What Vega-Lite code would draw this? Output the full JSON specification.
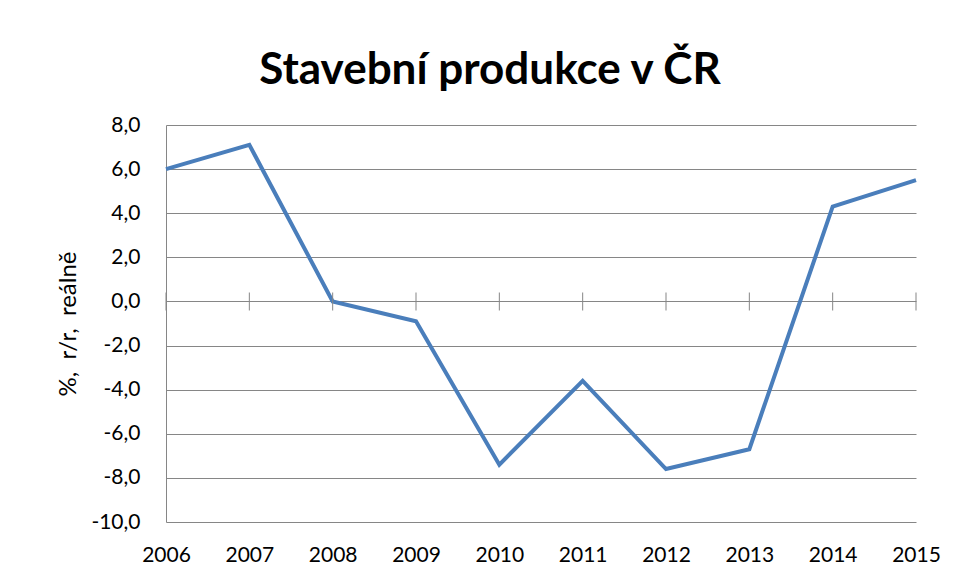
{
  "$schema": "https://vega.github.io/schema/vega-lite/v6.json",
  "width": 750,
  "height": 397,
  "autosize": {"type": "none"},
  "padding": {"left": 166, "top": 125, "right": 44, "bottom": 59},
  "background": "white",
  "config": {
    "locale": {"number": {"decimal": ",", "thousands": " ", "grouping": [3], "currency": ["", " Kč"], "minus": "-"}},
    "view": {"stroke": null},
    "font": "Lato"
  },
  "title": {
    "text": "Stavební produkce v ČR",
    "font": "Lato",
    "fontSize": 44,
    "fontWeight": "bold",
    "color": "#000000",
    "anchor": "middle",
    "baseline": "alphabetic",
    "dx": -51,
    "offset": -14
  },
  "data": {
    "values": [
      {"year": 2006, "value": 6.0},
      {"year": 2007, "value": 7.1},
      {"year": 2008, "value": 0.0},
      {"year": 2009, "value": -0.9},
      {"year": 2010, "value": -7.4},
      {"year": 2011, "value": -3.6},
      {"year": 2012, "value": -7.6},
      {"year": 2013, "value": -6.7},
      {"year": 2014, "value": 4.3},
      {"year": 2015, "value": 5.5}
    ]
  },
  "layer": [
    {
      "mark": {"type": "line", "color": "#4A7EBB", "strokeWidth": 4, "strokeJoin": "miter"},
      "encoding": {
        "x": {
          "field": "year",
          "type": "quantitative",
          "scale": {"domain": [2006, 2015], "nice": false, "zero": false},
          "axis": {
            "values": [2006, 2007, 2008, 2009, 2010, 2011, 2012, 2013, 2014, 2015],
            "format": "d",
            "title": null,
            "domain": false,
            "ticks": false,
            "grid": false,
            "labelFont": "Lato",
            "labelFontSize": 21,
            "labelColor": "#000000",
            "labelPadding": 22,
            "labelFlush": false,
            "labelOverlap": false
          }
        },
        "y": {
          "field": "value",
          "type": "quantitative",
          "scale": {"domain": [-10, 8], "nice": false, "zero": false},
          "axis": {
            "values": [-10, -8, -6, -4, -2, 0, 2, 4, 6, 8],
            "format": ".1f",
            "title": "%,\u00a0\u00a0r/r,\u00a0\u00a0reálně",
            "titleFont": "Lato",
            "titleFontSize": 24,
            "titleFontWeight": "normal",
            "titleColor": "#000000",
            "titlePadding": 10,
            "domain": true,
            "domainColor": "#868686",
            "domainWidth": 1,
            "ticks": false,
            "grid": true,
            "gridColor": "#868686",
            "gridWidth": 1,
            "gridOpacity": 1,
            "labelFont": "Lato",
            "labelFontSize": 21,
            "labelColor": "#000000",
            "labelPadding": 26,
            "labelFlush": false,
            "labelOverlap": false
          }
        }
      }
    },
    {
      "mark": {"type": "tick", "orient": "vertical", "color": "#868686", "size": 18, "thickness": 1, "opacity": 1},
      "encoding": {
        "x": {"field": "year", "type": "quantitative"},
        "y": {"datum": 0}
      }
    }
  ]
}
